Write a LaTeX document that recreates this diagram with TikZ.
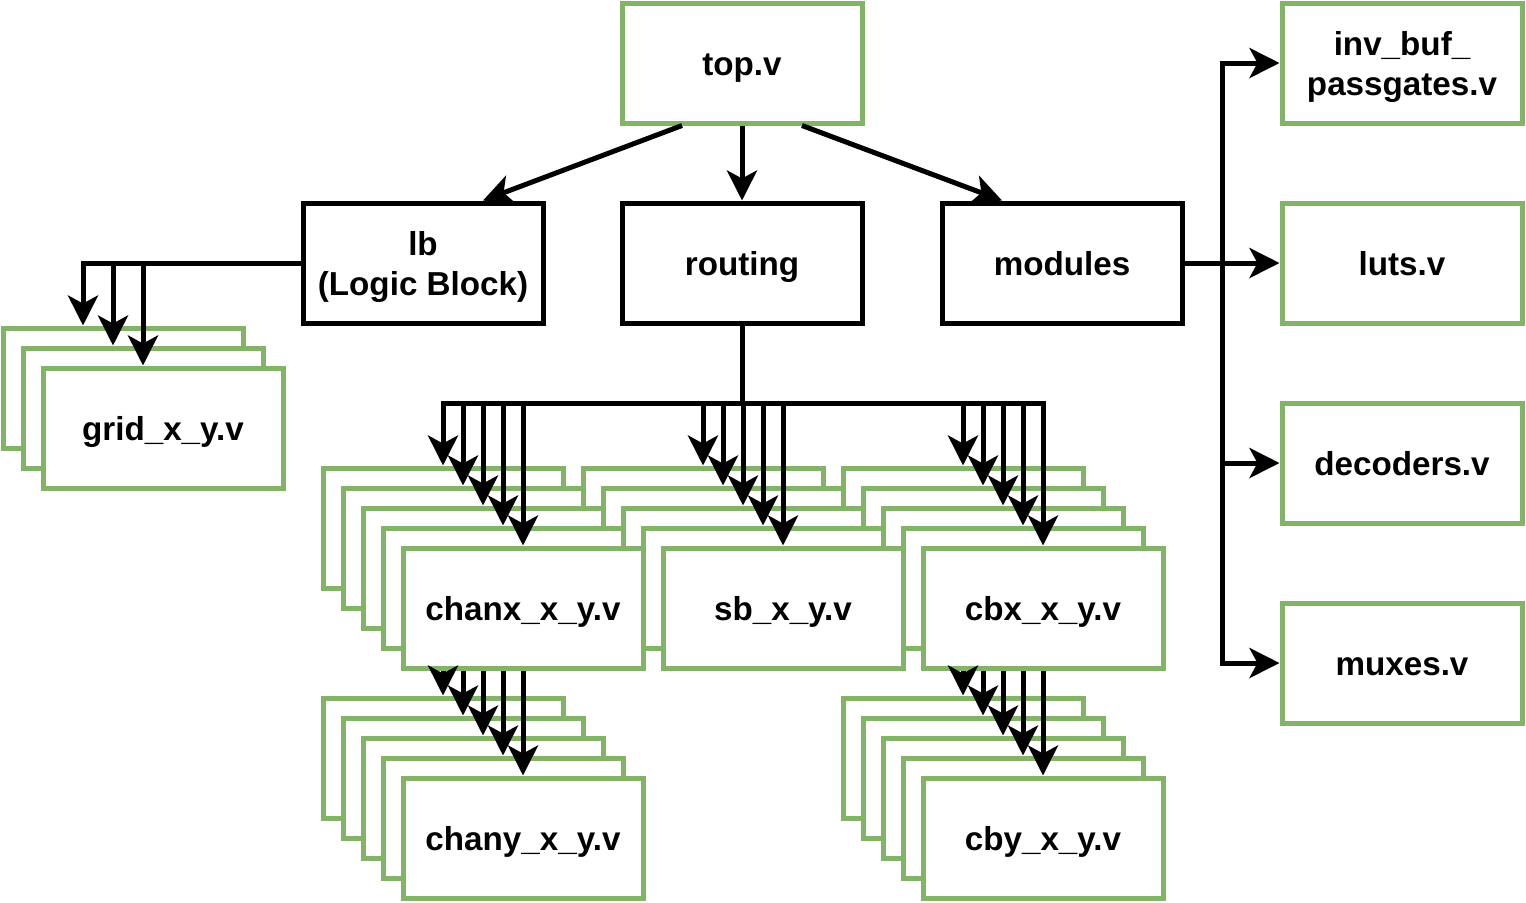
\documentclass[tikz,border=0pt]{standalone}
\usepackage{fontspec}
\setmainfont{Liberation Sans}
\usetikzlibrary{arrows.meta,calc}
\usepackage{xcolor}
\definecolor{mygreen}{RGB}{130,179,102}

\begin{document}
\begin{tikzpicture}[x=0.5pt,y=-0.5pt,line width=2.5pt,
    ->,>={Stealth[length=15pt,width=15pt,inset=4pt]},
    font=\fontsize{16.6}{20}\selectfont\bfseries]
  \tikzstyle{file}=[-,draw=mygreen,fill=white,minimum width=120pt,minimum height=60pt,
    align=center,text height=15pt,text depth=3pt]
  \tikzstyle{twolines}=[text height=35pt,text depth=3pt]
  \tikzstyle{dir}=[file,draw=black]
  \tikzstyle{bus}=[-,line cap=rect]
  \useasboundingbox (0,0) rectangle (1526,902);

  \node[file] (top)      at (742,63)   {top.v};
  \node[dir,twolines]  (lb) at (423,263) {lb\\(Logic Block)};
  \node[dir]  (routing)  at (742,263)  {routing};
  \node[dir]  (modules)  at (1062,263) {modules};

  \node[file,twolines] (invbuf) at (1402,63) {inv\_buf\_\\passgates.v};
  \node[file] (luts)     at (1402,263) {luts.v};
  \node[file] (decoders) at (1402,463) {decoders.v};
  \node[file] (muxes)    at (1402,663) {muxes.v};

  % stacks of per-tile files
  \foreach \i in {0,...,2}
    \node[file] (grid\i) at (123+20*\i,388+20*\i) {\ifnum\i=2 grid\_x\_y.v\fi};
  \foreach \i in {0,...,4}
    \node[file] (cbx\i) at (963+20*\i,528+20*\i) {\ifnum\i=4 cbx\_x\_y.v\fi};
  \foreach \i in {0,...,4}
    \node[file] (sb\i) at (703+20*\i,528+20*\i) {\ifnum\i=4 sb\_x\_y.v\fi};
  \foreach \i in {0,...,4}
    \node[file] (chanx\i) at (443+20*\i,528+20*\i) {\ifnum\i=4 chanx\_x\_y.v\fi};
  \foreach \i in {0,...,4}
    \node[file] (chany\i) at (443+20*\i,758+20*\i) {\ifnum\i=4 chany\_x\_y.v\fi};
  \foreach \i in {0,...,4}
    \node[file] (cby\i) at (963+20*\i,758+20*\i) {\ifnum\i=4 cby\_x\_y.v\fi};

  \draw ($(top.south)+(-60,0)$) -- ($(lb.north)+(60,0)$);
  \draw (top) -- (routing);
  \draw ($(top.south)+(60,0)$) -- ($(modules.north)+(-60,0)$);

  % lb -> grid
  \foreach \i in {0,...,2}
    \coordinate (g\i) at ($(grid\i.north)+(-40+10*\i,0)$);
  \draw (lb.west) -| (g0);
  \foreach \i in {1,2}
    \draw (g\i |- lb.west) -- (g\i);

  % routing -> chanx, sb, cbx
  \coordinate (rbus) at (742,403);
  \draw[-] (routing) -- (rbus);
  \draw[bus] (chanx0.north |- rbus) -- (cbx4.north |- rbus);
  \foreach \n in {chanx,sb,cbx}
    \foreach \i in {0,...,4}
      \draw (\n\i.north |- rbus) -- (\n\i.north);

  % chanx -> chany, cbx -> cby
  \foreach \i in {0,...,4} {
    \draw (chany\i.north |- chanx4.south) -- (chany\i.north);
    \draw (cby\i.north |- cbx4.south) -- (cby\i.north);
  }

  % modules -> files
  \coordinate (mbus) at (1222,263);
  \draw[bus] (invbuf.west -| mbus) -- (muxes.west -| mbus);
  \draw (modules) -- (luts);
  \foreach \n in {invbuf,decoders,muxes}
    \draw (\n.west -| mbus) -- (\n.west);
\end{tikzpicture}
\end{document}
